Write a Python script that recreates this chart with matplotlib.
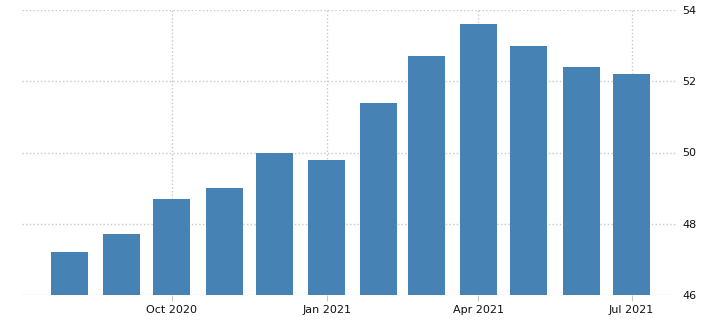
import matplotlib
matplotlib.use('Agg')
import matplotlib.pyplot as plt
import matplotlib.dates as mdates
import numpy as np
import datetime as dt

months = ['2020-08', '2020-09', '2020-10', '2020-11', '2020-12', '2021-01',
          '2021-02', '2021-03', '2021-04', '2021-05', '2021-06', '2021-07']
values = [47.2, 47.7, 48.7, 49.0, 50.0, 49.8, 51.4, 52.7, 53.6, 53.0, 52.4, 52.2]
tick_dates = ['2020-10', '2021-01', '2021-04', '2021-07']
tick_labels = ['Oct 2020', 'Jan 2021', 'Apr 2021', 'Jul 2021']
y_ticks = [46, 48, 50, 52, 54]

def to_date(s):
    y, m = s.split('-')
    return dt.date(int(y), int(m), 1)

x = [to_date(m) for m in months]

fig = plt.figure(figsize=(7.03, 3.27), dpi=100)
ax = fig.add_axes([22/703, 1-295/327, (677-22)/703, (295-10)/327])

ax.bar(x, values, width=22, color='#4682b4', zorder=2)

ax.set_ylim(46, 54)
ax.set_xlim(dt.date(2020, 7, 4), dt.date(2021, 7, 28))
ax.set_yticks(y_ticks)
ax.yaxis.tick_right()
ax.set_xticks([to_date(t) for t in tick_dates])
ax.set_xticklabels(tick_labels)

for s in ax.spines.values():
    s.set_visible(False)
ax.grid(True, linestyle=':', color='#c8c8c8', linewidth=1, zorder=0)
ax.tick_params(axis='y', length=0, labelsize=8, pad=4, labelcolor='#111111')
ax.tick_params(axis='x', length=4, color='#c8c8c8', labelsize=8, pad=3, labelcolor='#111111')

plt.savefig('out.png', dpi=100)
